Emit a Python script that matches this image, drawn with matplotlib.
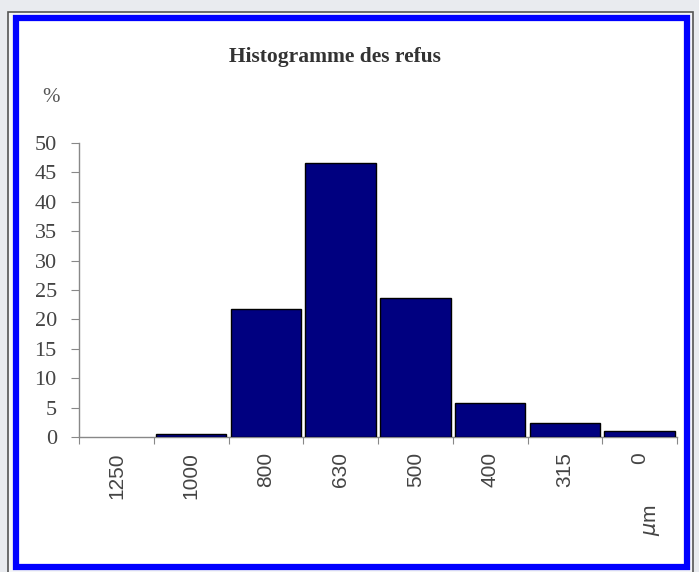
import matplotlib
matplotlib.use('Agg')
import matplotlib.pyplot as plt
from matplotlib.patches import Rectangle

# données
tamis = ['1250', '1000', '800', '630', '500', '400', '315', '0']
refus = [0.0, 0.45, 21.8, 46.6, 23.6, 5.8, 2.4, 1.0]
y_ticks = [0, 5, 10, 15, 20, 25, 30, 35, 40, 45, 50]

W, H = 699, 572


def px_rect(x0, y0, x1, y1, **kw):
    '''rectangle en pixels (origine en haut à gauche)'''
    return Rectangle((x0 / W, 1 - y1 / H), (x1 - x0) / W, (y1 - y0) / H,
                     transform=fig.transFigure, zorder=-10, **kw)


fig = plt.figure(figsize=(W / 100, H / 100), dpi=100)
fig.patch.set_facecolor('#e9ebef')

# cadre gris foncé + cadre bleu
fig.add_artist(px_rect(8, 12, 693, 575, facecolor='#f4f5f7', edgecolor='#555555', lw=1.2))
fig.add_artist(px_rect(16, 18, 687, 567, facecolor='white', edgecolor='#0000ff', lw=4.5))

ax = fig.add_axes([79 / W, 1 - 437 / H, 598 / W, 294 / H])
ax.set_facecolor('none')
ax.set_zorder(5)

x = [i + 0.5 for i in range(len(tamis))]
bars = ax.bar(x, refus, width=0.94, color='#000080', edgecolor='black', linewidth=1.0, zorder=3)
# une classe vide ne doit pas tracer de trait noir sur l'axe
for b, v in zip(bars, refus):
    if v == 0:
        b.set_visible(False)

ax.set_xlim(0, len(tamis))
ax.set_ylim(0, 50)

for side in ['top', 'right']:
    ax.spines[side].set_visible(False)
for side in ['left', 'bottom']:
    ax.spines[side].set_color('#888888')
    ax.spines[side].set_linewidth(1.0)

ax.set_yticks(y_ticks)
ax.set_yticklabels([str(v) for v in y_ticks], family='Liberation Serif', fontsize=16, color='#444444')
ax.tick_params(axis='y', direction='out', length=6, color='#888888', pad=10)

# graduations aux limites des classes, étiquettes au centre
ax.set_xticks(range(len(tamis) + 1))
ax.set_xticklabels([])
ax.tick_params(axis='x', which='major', direction='out', length=5, color='#888888')
ax.set_xticks(x, minor=True)
ax.set_xticklabels(tamis, minor=True, rotation=90, family='Liberation Sans',
                   fontsize=15, color='#444444', va='top')
ax.tick_params(axis='x', which='minor', length=0, pad=11)

fig.text(335 / W, 1 - 57 / H, 'Histogramme des refus', ha='center', va='center',
         family='Liberation Serif', fontweight='bold', fontsize=15.5, color='#333333')
fig.text(51 / W, 1 - 98 / H, '%', ha='center', va='center',
         family='Liberation Serif', fontsize=15, color='#555555')
fig.text(652 / W, 1 - 520 / H, r'$\mu$m', ha='center', va='center', rotation=90,
         family='Liberation Sans', fontsize=15, color='#444444')

fig.savefig('out.png', dpi=100, facecolor=fig.get_facecolor())
